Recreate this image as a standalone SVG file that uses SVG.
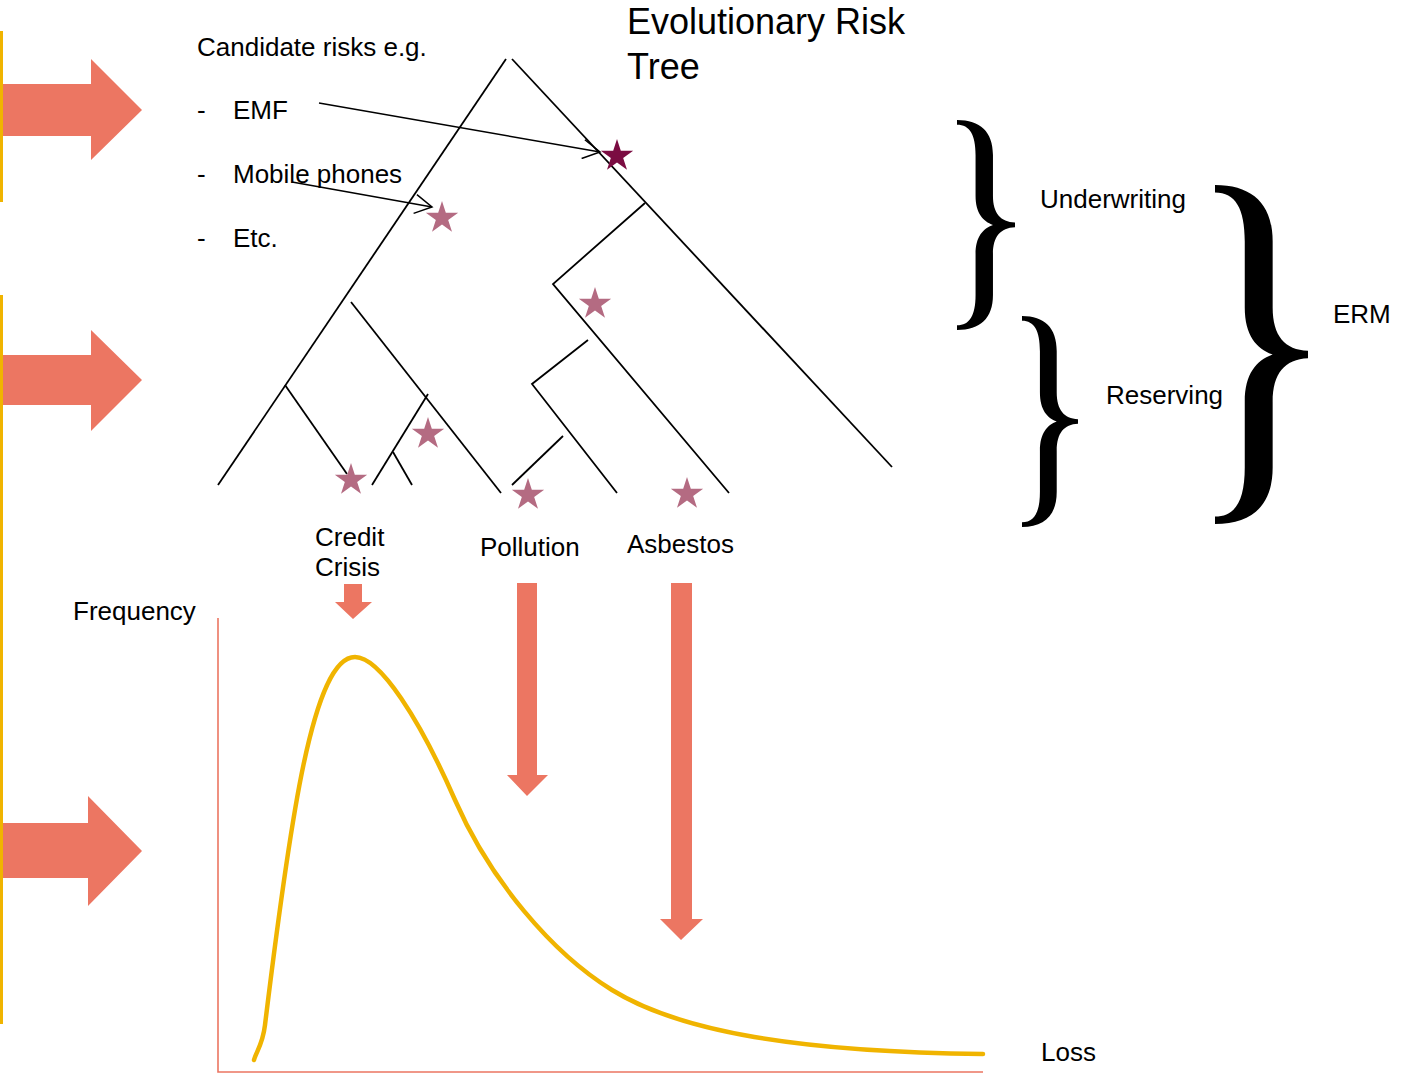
<svg xmlns="http://www.w3.org/2000/svg" width="1407" height="1074" viewBox="0 0 1407 1074">
<style>
text{font-family:"Liberation Sans",Arial,sans-serif;fill:#000;font-size:26px}
.title{font-size:36px}
.tree{stroke:#000;stroke-width:1.8;fill:none;stroke-linecap:butt}
.ptr{stroke:#000;stroke-width:1.5;fill:none}
.blk{fill:#EC7662}
.star{fill:#B46B82}
.starDark{fill:#7B0C42}
.yel{stroke:#F0B400;stroke-width:3;fill:none}
.axis{stroke:#EC7662;stroke-width:1.6;fill:none}
.curve{stroke:#F0B400;stroke-width:4.5;fill:none;stroke-linecap:round}
.brace{fill:#000}
</style>
<defs>
<path id="starShape" d="M0,-17 L3.82,-5.25 L16.17,-5.25 L6.17,2.01 L10,13.75 L0,6.49 L-10,13.75 L-6.17,2.01 L-16.17,-5.25 L-3.82,-5.25 Z"/>
<path id="braceShape" d="M0,0 C40,0 62,20 62,60 L62,130 C62,160 75,175 100,176 L100,184 C75,185 62,200 62,230 L62,300 C62,340 40,360 0,360 L0,352 C22,352 32,335 32,300 L32,230 C32,200 45,186 62,180 C45,174 32,160 32,130 L32,60 C32,25 22,8 0,8 Z"/>
<marker id="openHead" viewBox="0 0 20 20" refX="18" refY="10" markerWidth="20" markerHeight="20" markerUnits="userSpaceOnUse" orient="auto">
<path d="M1,0.5 L18,10 L1,19.5" fill="none" stroke="#000" stroke-width="1.5"/>
</marker>
</defs>
<rect width="1407" height="1074" fill="#fff"/>

<g id="side-bars">
<line class="yel" x1="1.5" y1="31" x2="1.5" y2="202"/>
<line class="yel" x1="1.5" y1="295" x2="1.5" y2="1024"/>
</g>

<g id="side-arrows">
<polygon class="blk" points="3,84 91,84 91,59 142,110 91,160 91,136 3,136"/>
<polygon class="blk" points="3,355 91,355 91,330 142,380 91,431 91,405 3,405"/>
<polygon class="blk" points="3,823 88,823 88,796 142,851 88,906 88,878 3,878"/>
</g>

<g id="title">
<text class="title" x="627" y="34">Evolutionary Risk</text>
<text class="title" x="627" y="79">Tree</text>
</g>

<g id="candidates">
<text x="197" y="56">Candidate risks e.g.</text>
<text x="197" y="119">-</text><text x="233" y="119">EMF</text>
<text x="197" y="183">-</text><text x="233" y="183">Mobile phones</text>
<text x="197" y="247">-</text><text x="233" y="247">Etc.</text>
</g>

<g id="tree">
<line class="tree" x1="506" y1="59" x2="218" y2="485"/>
<line class="tree" x1="512" y1="59" x2="892" y2="467"/>
<line class="tree" x1="285" y1="385" x2="347" y2="474"/>
<line class="tree" x1="351" y1="302" x2="501" y2="493"/>
<line class="tree" x1="428" y1="394" x2="372" y2="485"/>
<line class="tree" x1="393" y1="452" x2="412" y2="485"/>
<polyline class="tree" points="645,203 553,284 729,493"/>
<polyline class="tree" points="588,340 532,384 617,493"/>
<line class="tree" x1="563" y1="436" x2="512" y2="485"/>
</g>

<g id="stars">
<use href="#starShape" class="starDark" x="617" y="156"/>
<use href="#starShape" class="star" x="442" y="218"/>
<use href="#starShape" class="star" x="595" y="304"/>
<use href="#starShape" class="star" x="428" y="434"/>
<use href="#starShape" class="star" x="351" y="480"/>
<use href="#starShape" class="star" x="528" y="495"/>
<use href="#starShape" class="star" x="687" y="494"/>
</g>

<g id="connectors">
<line class="ptr" x1="319" y1="103" x2="600" y2="152" marker-end="url(#openHead)"/>
<line class="ptr" x1="292" y1="182" x2="432" y2="207" marker-end="url(#openHead)"/>
<polygon class="blk" points="344,584 362,584 362,602 372,602 353,619 335,602 344,602"/>
<polygon class="blk" points="517,583 537,583 537,775 548,775 527,796 507,775 517,775"/>
<polygon class="blk" points="671,583 692,583 692,919 703,919 681,940 660,919 671,919"/>
</g>

<g id="leaf-labels">
<text x="315" y="546">Credit</text>
<text x="315" y="576">Crisis</text>
<text x="480" y="556">Pollution</text>
<text x="627" y="553">Asbestos</text>
</g>

<g id="braces">
<use href="#braceShape" class="brace" transform="translate(957,120) scale(0.58,0.583)"/>
<use href="#braceShape" class="brace" transform="translate(1022,316) scale(0.56,0.586)"/>
<use href="#braceShape" class="brace" transform="translate(1215,185) scale(0.93,0.942)"/>
<text x="1040" y="208">Underwriting</text>
<text x="1106" y="404">Reserving</text>
<text x="1333" y="323">ERM</text>
</g>

<g id="chart">
<polyline class="axis" points="218,618 218,1072 983,1072"/>
<text x="73" y="620">Frequency</text>
<text x="1041" y="1061">Loss</text>
<path class="curve" d="M254,1060 C256,1052 262.6,1045 265,1025 C290,820 313,657 355,657 C380,657 420,720 455,800 C490,880 552,953 612,990 C680,1032 800,1052 983,1054"/>
</g>
</svg>
